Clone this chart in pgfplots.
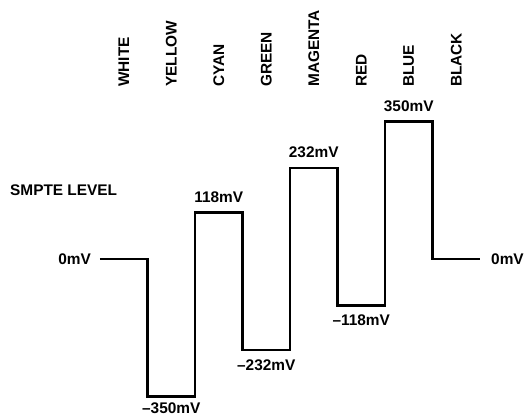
\documentclass[border=0pt]{standalone}
\usepackage{fontspec}
\setmainfont{Liberation Sans}
\usepackage{pgfplots}
\pgfplotsset{compat=1.18}
\newcommand\lf{\fontsize{15.4bp}{18bp}\selectfont\bfseries}
\tikzset{lbl/.style={font=\lf, inner sep=0pt}}
\begin{document}
\begin{tikzpicture}
\begin{axis}[
  scale only axis,
  width=530bp, height=418bp,
  xmin=-2.105, xmax=9.053,
  ymin=-404.9, ymax=659.5,
  hide axis,
  clip=false,
]
\path (rel axis cs:0,0) rectangle (rel axis cs:1,1);
\addplot[const plot, black, line width=2.5bp, line join=miter] coordinates {
  (0,0) (1,-350) (2,118) (3,-232) (4,232) (5,-118) (6,350) (7,0) (8,0)
};
% column labels
\node[lbl, rotate=90, anchor=west] at (axis cs:0.5,438) {WHITE};
\node[lbl, rotate=90, anchor=west] at (axis cs:1.5,438) {YELLOW};
\node[lbl, rotate=90, anchor=west] at (axis cs:2.5,438) {CYAN};
\node[lbl, rotate=90, anchor=west] at (axis cs:3.5,438) {GREEN};
\node[lbl, rotate=90, anchor=west] at (axis cs:4.5,438) {MAGENTA};
\node[lbl, rotate=90, anchor=west] at (axis cs:5.5,438) {RED};
\node[lbl, rotate=90, anchor=west] at (axis cs:6.5,438) {BLUE};
\node[lbl, rotate=90, anchor=west] at (axis cs:7.5,438) {BLACK};
% value labels above
\node[lbl, anchor=south, yshift=10bp] at (axis cs:2.5,118) {118mV};
\node[lbl, anchor=south, yshift=10bp] at (axis cs:4.5,232) {232mV};
\node[lbl, anchor=south, yshift=10bp] at (axis cs:6.5,350) {350mV};
% value labels below
\node[lbl, anchor=north, yshift=-6.5bp] at (axis cs:1.5,-350) {--350mV};
\node[lbl, anchor=north, yshift=-9bp] at (axis cs:3.5,-232) {--232mV};
\node[lbl, anchor=north, yshift=-9bp] at (axis cs:5.5,-118) {--118mV};
% zero labels
\node[lbl, anchor=east, xshift=-9bp] at (axis cs:0,0) {0mV};
\node[lbl, anchor=west, xshift=11bp] at (axis cs:8,0) {0mV};
\node[lbl, anchor=west] at (axis cs:-1.895,174.4) {SMPTE LEVEL};
\end{axis}
\end{tikzpicture}
\end{document}
